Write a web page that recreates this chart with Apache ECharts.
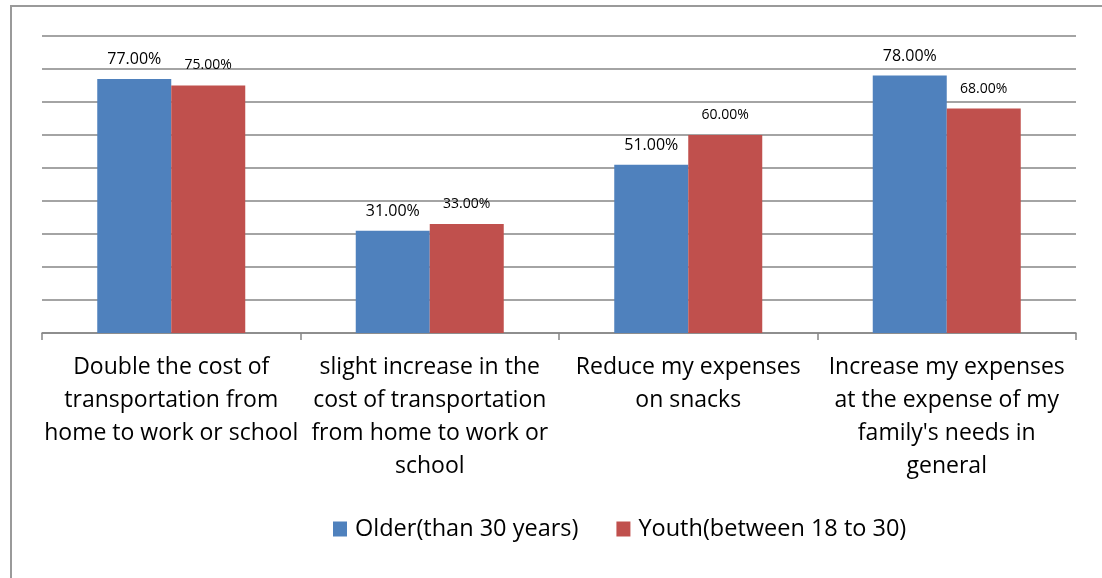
<!DOCTYPE html>
<html>
<head>
<meta charset="utf-8">
<script src="https://cdn.jsdelivr.net/npm/echarts@6/dist/echarts.min.js"></script>
<style>
html,body{margin:0;padding:0;background:#fff;}
#frame{position:absolute;left:10px;top:5px;width:1092px;height:573px;border-left:2px solid #9a9a9a;border-top:2px solid #9a9a9a;}
#chart{position:absolute;left:0;top:0;width:1102px;height:578px;}
</style>
</head>
<body>
<div id="frame"></div>
<div id="chart"></div>
<script>
const categories = [
  "Double the cost of\ntransportation from\nhome to work or school",
  "slight increase in the\ncost of transportation\nfrom home to work or\nschool",
  "Reduce my expenses\non snacks",
  "Increase my expenses\nat the expense of my\nfamily's needs in\ngeneral"
];
const seriesNames = ["Older(than 30 years)", "Youth(between 18 to 30)"];
const olderValues = [77, 31, 51, 78];
const youthValues = [75, 33, 60, 68];

const chart = echarts.init(document.getElementById('chart'), null, {renderer: 'canvas'});
const fontFam = "'Open Sans', 'Noto Sans', sans-serif";
chart.setOption({
  animation: false,
  backgroundColor: 'transparent',
  grid: {left: 42, right: 26, top: 36, bottom: 245, containLabel: false},
  legend: {
    data: seriesNames,
    top: 515,
    left: 333,
    padding: 0,
    itemWidth: 14, itemHeight: 15, itemGap: 38,
    icon: 'rect',
    textStyle: {fontSize: 23.5, lineHeight: 28, color: '#000', fontFamily: fontFam, padding: [0,0,0,3]}
  },
  xAxis: {
    type: 'category',
    data: categories,
    axisLine: {lineStyle: {color: '#868686', width: 1.5}},
    axisTick: {show: true, length: 7, alignWithLabel: false, lineStyle: {color: '#868686', width: 1.5}},
    axisLabel: {interval: 0, fontSize: 23, color: '#000', fontFamily: fontFam, lineHeight: 33, margin: 18}
  },
  yAxis: {
    type: 'value',
    min: 0, max: 90, interval: 10,
    axisLabel: {show: false},
    axisLine: {show: false},
    axisTick: {show: false},
    splitLine: {lineStyle: {color: '#868686', width: 1.5}}
  },
  series: [
    {
      name: seriesNames[0], type: 'bar', data: olderValues,
      barWidth: 74, barGap: '0%',
      itemStyle: {color: '#4F81BD'},
      label: {show: true, position: 'top', distance: 11, fontSize: 16, color: '#000', fontFamily: fontFam,
        formatter: p => p.value.toFixed(2) + '%'}
    },
    {
      name: seriesNames[1], type: 'bar', data: youthValues,
      barWidth: 74, barGap: '0%',
      itemStyle: {color: '#C0504D'},
      label: {show: true, position: 'top', distance: 13, fontSize: 14, color: '#000', fontFamily: fontFam,
        formatter: p => p.value.toFixed(2) + '%'}
    }
  ]
});
</script>
</body>
</html>
